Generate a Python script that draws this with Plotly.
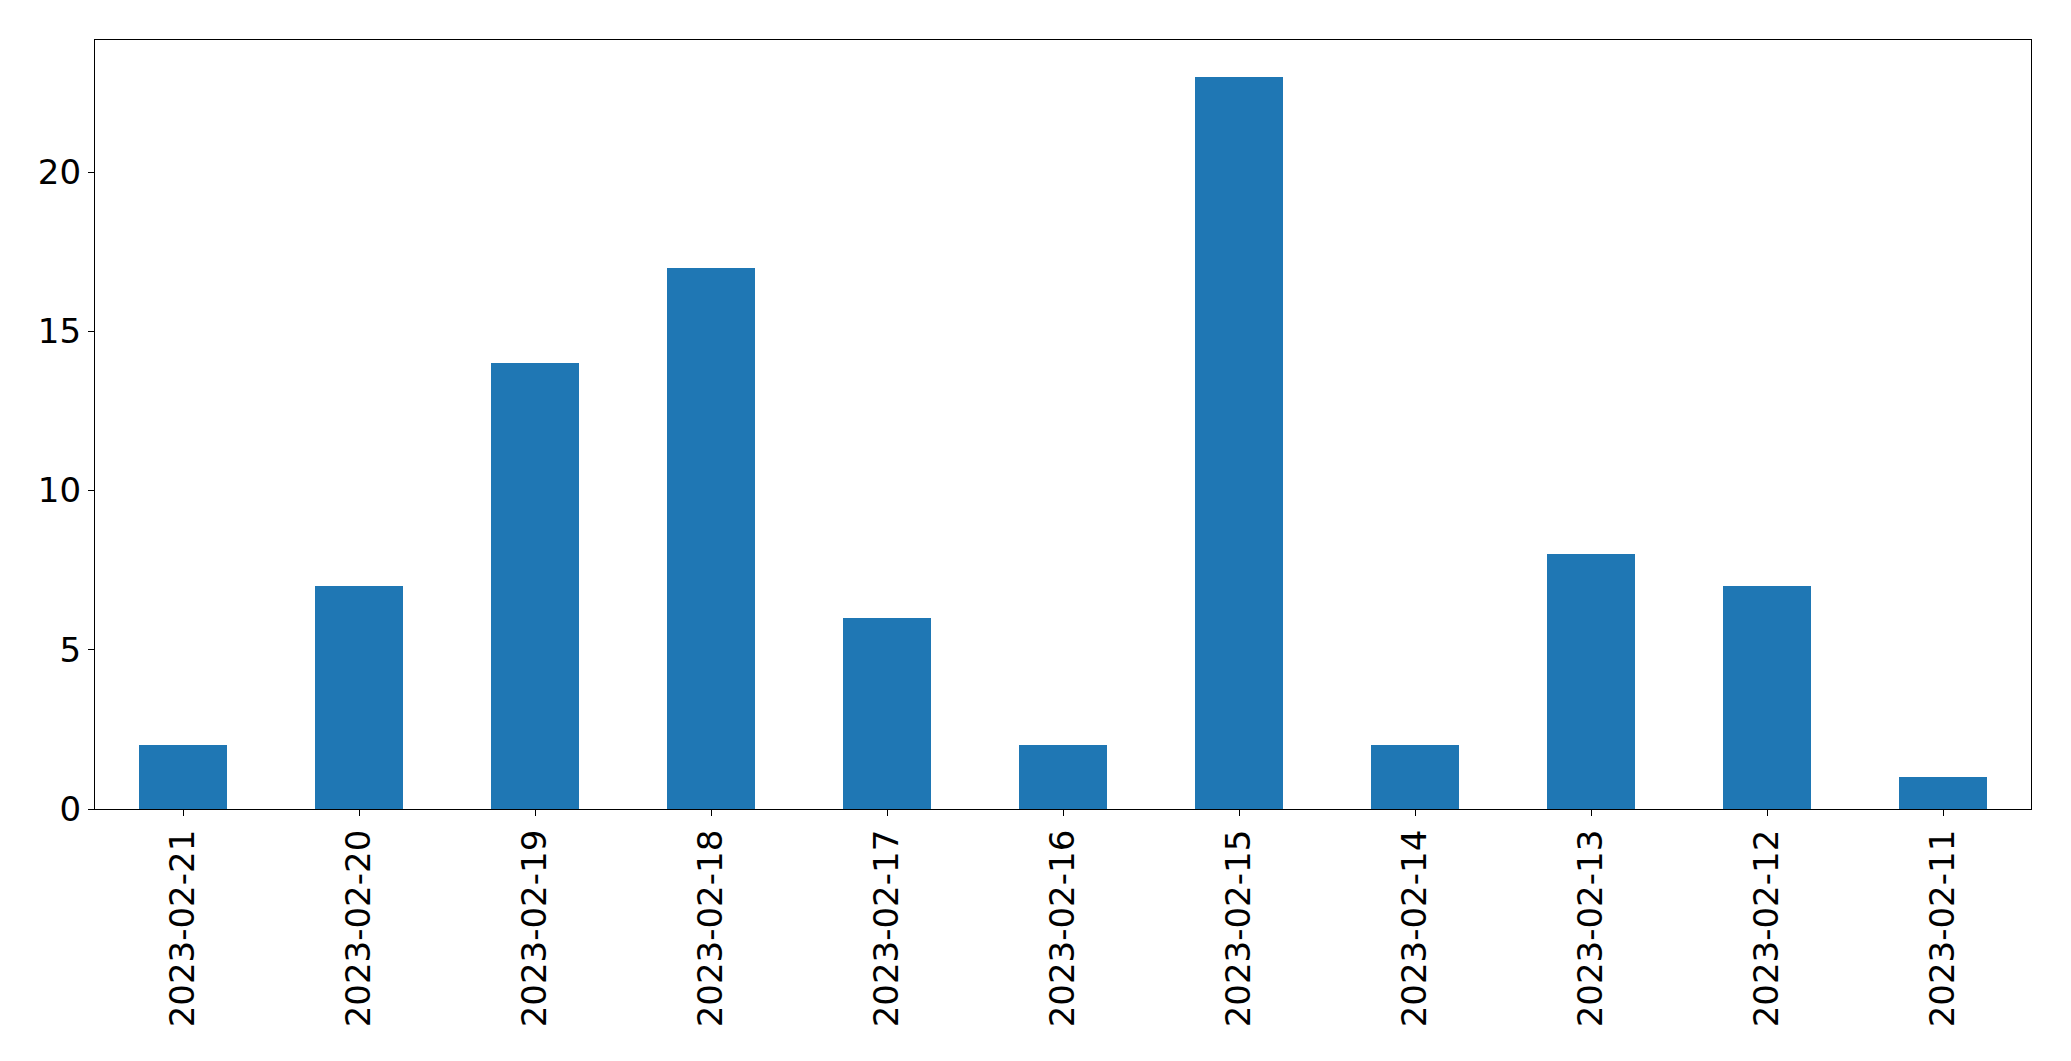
import plotly.graph_objects as go

dates = ["2023-02-21", "2023-02-20", "2023-02-19", "2023-02-18", "2023-02-17",
         "2023-02-16", "2023-02-15", "2023-02-14", "2023-02-13", "2023-02-12", "2023-02-11"]
counts = [2, 7, 14, 17, 6, 2, 23, 2, 8, 7, 1]
y_ticks = [0, 5, 10, 15, 20]

fig = go.Figure(go.Bar(x=list(range(len(dates))), y=counts, width=0.5,
                       marker=dict(color="#1f77b4", line=dict(width=0))))

font = dict(family="DejaVu Sans", size=34, color="black")
# page body adds an 8px offset; figure sized/margined to compensate
fig.update_layout(
    width=2063, height=1053,
    margin=dict(l=87, r=40, t=32, b=252, pad=0),
    paper_bgcolor="white", plot_bgcolor="white",
    showlegend=False, bargap=0,
    font=font,
)
fig.update_xaxes(
    range=[-0.5, len(dates) - 0.5], automargin=False,
    tickmode="array", tickvals=list(range(len(dates))), ticktext=dates,
    tickangle=-90, ticks="outside", ticklen=6, tickwidth=1.3, tickcolor="black",
    showline=True, linecolor="black", linewidth=1.3, mirror=True,
    showgrid=False, zeroline=False, tickfont=font,
)
fig.update_yaxes(
    range=[0, 24.15], automargin=False,
    tickmode="array", tickvals=y_ticks, ticktext=[str(v) for v in y_ticks],
    ticks="outside", ticklen=6, tickwidth=1.3, tickcolor="black",
    showline=True, linecolor="black", linewidth=1.3, mirror=True,
    showgrid=False, zeroline=False, tickfont=font,
)
fig.write_html("out.html")
